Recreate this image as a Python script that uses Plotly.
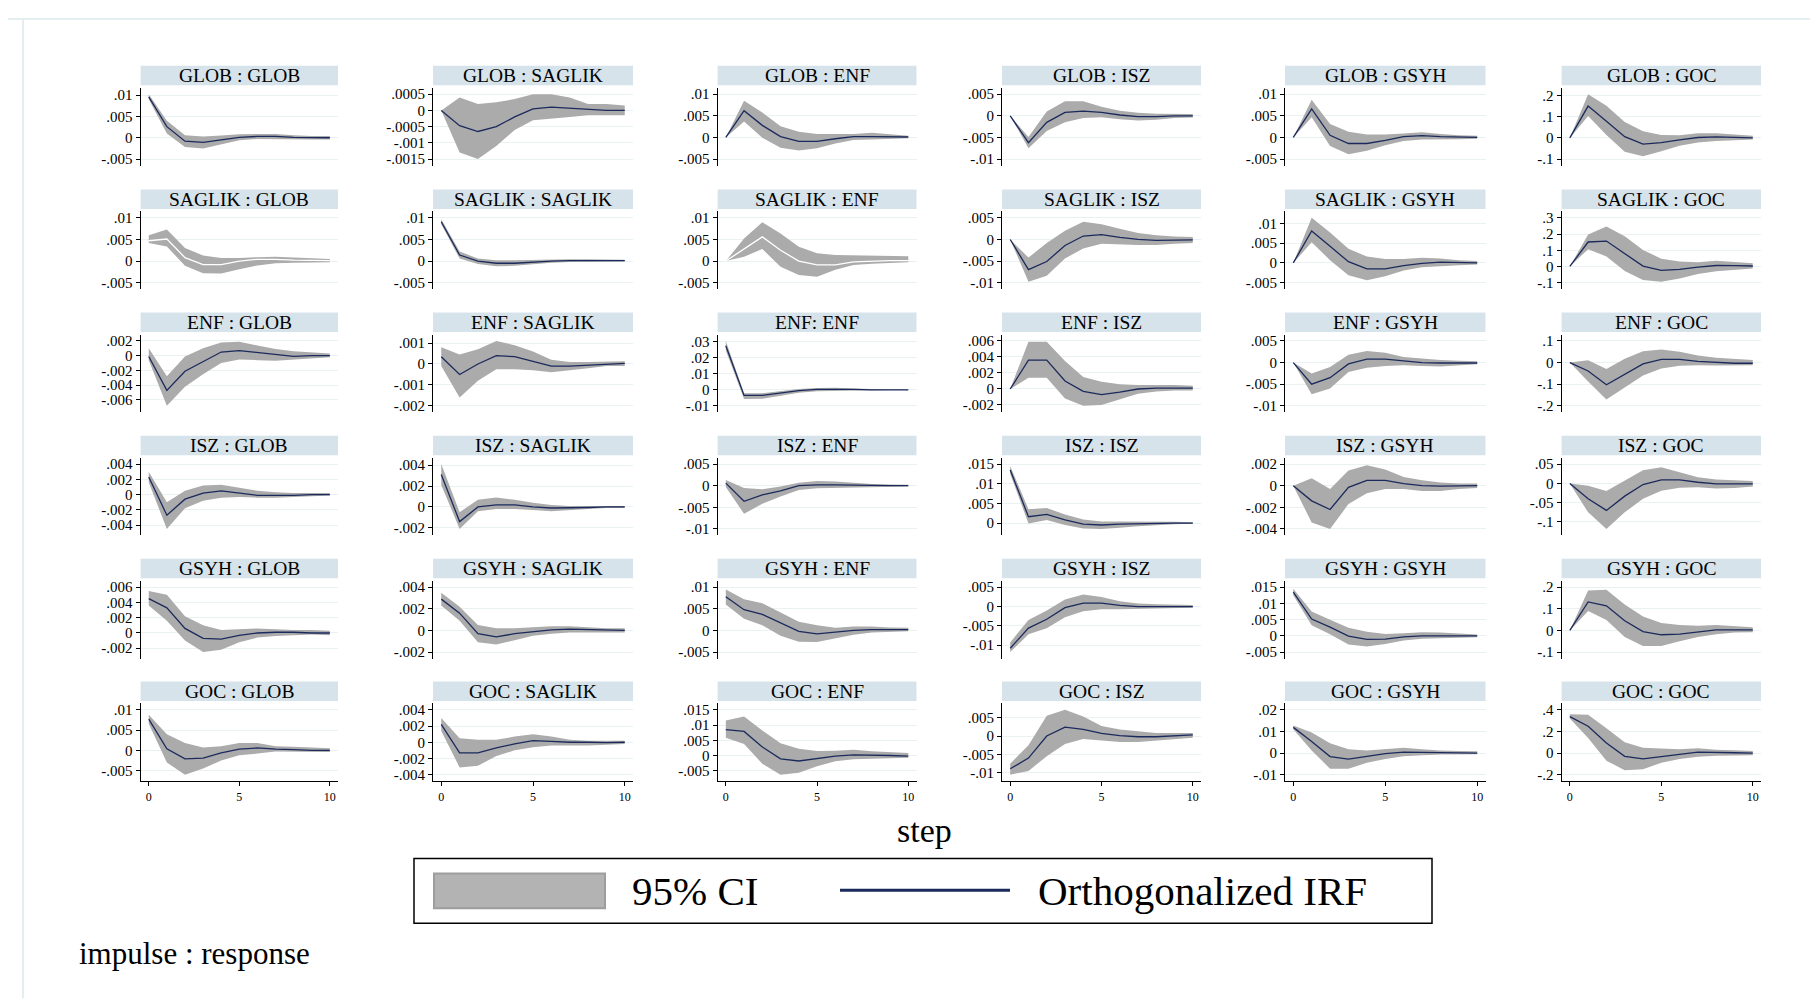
import plotly.graph_objects as go

# ---------------- data ----------------
STEPS = list(range(11))
VARS = ["GLOB", "SAGLIK", "ENF", "ISZ", "GSYH", "GOC"]

# impulse GLOB -> responses GLOB, SAGLIK, ENF, ISZ, GSYH, GOC
IRF_GLOB = [
    [.0096, .0026, -.0008, -.0011, -.0005, .0001, .0003, .0003, .0001, 0, 0],
    [0, -.00047, -.00065, -.0005, -.0002, .00005, .0001, .00007, .00003, 0, 0],
    [0, .0062, .0028, .0002, -.0009, -.0009, -.0003, .0002, .0002, .0001, .0001],
    [0, -.0062, -.0015, .0008, .0011, .0008, .0002, -.0002, -.0002, 0, 0],
    [0, .0066, .0005, -.0014, -.0014, -.0007, .0002, .0004, .0002, .0001, 0],
    [0, .151, .079, .006, -.029, -.022, -.009, .002, .005, .002, 0],
]
LO_GLOB = [
    [.0090, .0010, -.0022, -.0025, -.0015, -.0006, -.0003, -.0003, -.0004, -.0004, -.0004],
    [0, -.0013, -.0015, -.0011, -.0006, -.0003, -.00025, -.0002, -.00015, -.00015, -.00015],
    [0, .0037, -.0001, -.0024, -.0030, -.0025, -.0014, -.0006, -.0005, -.0004, -.0002],
    [0, -.0075, -.0035, -.0015, -.0005, -.0003, -.0008, -.0011, -.0009, -.0005, -.0004],
    [0, .0047, -.0020, -.0039, -.0031, -.0018, -.0008, -.0005, -.0004, -.0004, -.0003],
    [0, .104, .014, -.066, -.087, -.063, -.037, -.022, -.015, -.010, -.008],
]
HI_GLOB = [
    [.0102, .0040, .0006, .0003, .0005, .0008, .0009, .0009, .0006, .0004, .0004],
    [0, .0004, .0002, .00025, .00035, .0005, .0005, .0004, .0002, .0002, .00015],
    [0, .0085, .0058, .0026, .0013, .0008, .0008, .0008, .0011, .0007, .0004],
    [0, -.0049, .0010, .0034, .0034, .0021, .0012, .0007, .0005, .0004, .0004],
    [0, .0087, .0031, .0013, .0007, .0007, .0009, .0012, .0008, .0005, .0004],
    [0, .207, .153, .076, .032, .014, .013, .022, .022, .015, .010],
]

IRF_SAGLIK = [
    [.0047, .0051, .0008, -.0008, -.0008, 0, .0004, .0004, .0002, .0002, .0001],
    [.0091, .0014, 0, -.0005, -.0005, -.0002, 0, .0001, .0001, .0001, .0001],
    [0, .0028, .0056, .0025, 0, -.0009, -.0009, -.0002, 0, .0001, .0001],
    [0, -.0070, -.0051, -.0014, .0008, .0011, .0005, 0, -.0002, -.0002, -.0001],
    [0, .0081, .0042, .0003, -.0015, -.0015, -.0007, -.0001, .0002, .0001, 0],
    [0, .151, .157, .078, .002, -.024, -.018, -.004, .006, .005, .003],
]
LO_SAGLIK = [
    [.0042, .0034, -.0011, -.0028, -.0029, -.0019, -.0010, -.0005, -.0004, -.0003, -.0003],
    [.0085, .0006, -.0007, -.0012, -.0011, -.0007, -.0004, -.0002, -.0002, -.0001, -.0001],
    [0, .0010, .0028, -.0013, -.0032, -.0036, -.0020, -.0009, -.0006, -.0004, -.0003],
    [0, -.0098, -.0084, -.0044, -.0021, -.0010, -.0011, -.0013, -.0013, -.0010, -.0008],
    [0, .0052, .0007, -.0031, -.0044, -.0034, -.0019, -.0011, -.0008, -.0006, -.0004],
    [0, .107, .062, -.028, -.084, -.094, -.075, -.046, -.030, -.020, -.013],
]
HI_SAGLIK = [
    [.0060, .0073, .0030, .0013, .0007, .0007, .0009, .0010, .0008, .0006, .0005],
    [.0097, .0022, .0006, .0002, .0002, .0003, .0004, .0004, .0004, .0003, .0003],
    [0, .0052, .0090, .0064, .0033, .0018, .0014, .0013, .0012, .0012, .0011],
    [0, -.0042, -.0008, .0020, .0041, .0035, .0025, .0015, .0010, .0007, .0006],
    [0, .0114, .0077, .0036, .0016, .0010, .0010, .0013, .0011, .0007, .0005],
    [0, .197, .247, .187, .102, .048, .030, .026, .036, .027, .020],
]

IRF_ENF = [
    [-.0001, -.0047, -.0021, -.0008, .0005, .0007, .0004, .0001, -.0001, 0, 0],
    [.00035, -.0005, 0, .0004, .00035, .00012, -.0001, -.0001, -.00005, 0, .00003],
    [.0275, -.0035, -.0035, -.0020, -.0005, .0002, .0004, .0002, 0, 0, 0],
    [0, .0036, .0036, .0010, -.0003, -.0007, -.0004, 0, .0001, .0001, .0001],
    [0, -.0050, -.0035, -.0003, .0008, .0008, .0004, 0, -.0001, -.0001, -.0001],
    [0, -.039, -.103, -.055, -.006, .015, .015, .006, 0, -.003, -.003],
]
LO_ENF = [
    [-.0006, -.0068, -.0042, -.0025, -.0010, -.0005, -.0006, -.0007, -.0006, -.0004, -.0002],
    [-.0001, -.0016, -.0008, -.00025, -.00025, -.0003, -.0004, -.0003, -.0002, -.0001, -.0001],
    [.0245, -.0058, -.0056, -.0037, -.0018, -.0009, -.0006, -.0005, -.0004, -.0002, -.0002],
    [0, .0014, .0014, -.0012, -.0021, -.0020, -.0013, -.0006, -.0003, -.0002, -.0002],
    [0, -.0073, -.0060, -.0022, -.0012, -.0008, -.0006, -.0008, -.0009, -.0007, -.0004],
    [0, -.088, -.171, -.115, -.060, -.027, -.015, -.012, -.014, -.014, -.012],
]
HI_ENF = [
    [.0010, -.0028, -.0001, .0010, .0018, .0019, .0014, .0009, .0006, .0004, .0003],
    [.0008, .00045, .0007, .0011, .0009, .0006, .0002, .0001, .0001, .00012, .00013],
    [.0305, -.0022, -.0022, -.0007, .0005, .0011, .0012, .0008, .0004, .0002, .0002],
    [0, .0059, .0059, .0035, .0015, .0009, .0006, .0005, .0005, .0005, .0004],
    [0, -.0025, -.0010, .0018, .0027, .0023, .0013, .0009, .0006, .0004, .0003],
    [0, .011, -.030, .018, .052, .061, .050, .033, .022, .016, .012],
]

IRF_ISZ = [
    [.0023, -.0027, -.0006, .0002, .0005, .0002, -.0001, -.0001, -.0001, 0, 0],
    [.0031, -.0014, 0, .0002, .0002, 0, -.0001, -.0001, -.00005, 0, 0],
    [.0006, -.0036, -.0021, -.0012, 0, .0002, .0002, .0001, 0, 0, 0],
    [.0135, .0016, .0022, .0008, -.0003, -.0005, -.0003, -.0002, 0, 0, 0],
    [0, -.0014, -.0022, -.00015, .0005, .0005, .0002, 0, -.00003, 0, 0],
    [0, -.040, -.070, -.033, -.003, .009, .009, .003, -.001, -.001, -.001],
]
LO_ISZ = [
    [.0016, -.0045, -.0018, -.0008, -.0004, -.0003, -.0004, -.0004, -.0003, -.0002, -.0001],
    [.0021, -.0021, -.0004, -.0002, -.0002, -.0003, -.0004, -.0003, -.0002, -.0001, -.0001],
    [-.0003, -.0065, -.0042, -.0025, -.0010, -.0006, -.0005, -.0004, -.0004, -.0003, -.0002],
    [.0125, -.0001, .0008, -.0005, -.0014, -.0015, -.0012, -.0008, -.0005, -.0003, -.0002],
    [0, -.0034, -.0040, -.0017, -.0007, -.0003, -.0003, -.0005, -.0005, -.0003, -.0002],
    [0, -.075, -.118, -.075, -.040, -.019, -.011, -.010, -.013, -.012, -.008],
]
HI_ISZ = [
    [.0030, -.0010, .0005, .0012, .0013, .0009, .0005, .0003, .0002, .0002, .0002],
    [.0041, -.0005, .0007, .0009, .0007, .0004, .0002, .0001, .0001, .0001, .0001],
    [.0013, -.0005, -.0008, -.0002, .0007, .0011, .0010, .0007, .0004, .0003, .0002],
    [.0145, .0035, .0038, .0022, .0009, .0004, .0004, .0004, .0004, .0003, .0002],
    [0, .0007, -.0003, .0014, .0019, .0015, .0008, .0005, .0003, .0002, .0002],
    [0, -.006, -.020, .008, .034, .042, .030, .016, .010, .008, .006],
]

IRF_GSYH = [
    [.0045, .0033, .0006, -.0007, -.0008, -.0003, 0, .0001, .0001, 0, 0],
    [.0029, .0016, -.0003, -.0006, -.0003, -.0001, .00006, .00012, .00006, 0, 0],
    [.0078, .0048, .0037, .0017, -.0002, -.0008, -.0004, 0, .0002, .0002, .0002],
    [-.0108, -.0056, -.0033, -.0003, .0009, .0009, .0003, 0, 0, 0, 0],
    [.0135, .0052, .0027, -.0001, -.0011, -.0010, -.0003, 0, 0, 0, 0],
    [0, .132, .114, .045, -.005, -.020, -.017, -.006, .003, .003, .003],
]
LO_GSYH = [
    [.0036, .0016, -.0010, -.0025, -.0022, -.0012, -.0006, -.0004, -.0003, -.0002, -.0003],
    [.0023, .0009, -.0011, -.0013, -.0009, -.0005, -.0003, -.0002, -.0002, -.0002, -.0002],
    [.0060, .0027, .0012, -.0012, -.0026, -.0027, -.0018, -.0010, -.0005, -.0003, -.0002],
    [-.0118, -.0072, -.0056, -.0028, -.0012, -.0007, -.0007, -.0007, -.0006, -.0004, -.0003],
    [.0125, .0033, .0005, -.0027, -.0033, -.0025, -.0014, -.0009, -.0007, -.0005, -.0004],
    [0, .090, .048, -.030, -.072, -.072, -.050, -.030, -.018, -.010, -.008],
]
HI_GSYH = [
    [.0055, .0050, .0022, .0010, .0004, .0005, .0006, .0005, .0004, .0004, .0003],
    [.0035, .0022, .0005, .0002, .0002, .0003, .0004, .0004, .0003, .0002, .0002],
    [.0095, .0072, .0063, .0042, .0020, .0012, .0006, .0009, .0009, .0007, .0006],
    [-.0093, -.0035, -.0010, .0018, .0031, .0025, .0014, .0008, .0006, .0005, .0004],
    [.0145, .0075, .0050, .0025, .0013, .0006, .0008, .0011, .0010, .0006, .0004],
    [0, .185, .188, .120, .065, .035, .025, .022, .025, .020, .015],
]

IRF_GOC = [
    [.0077, .0004, -.0021, -.0019, -.0006, .0003, .0006, .0003, .0002, 0, 0],
    [.0022, -.0013, -.0013, -.0007, -.0002, .0002, .0001, 0, 0, -.00005, 0],
    [.0085, .0079, .0028, -.0011, -.0018, -.0010, -.0002, .0002, .0002, 0, -.0002],
    [-.0089, -.0060, 0, .0024, .0018, .0007, .0001, -.0002, -.0002, 0, .0003],
    [.0119, .0054, -.0016, -.0028, -.0015, -.0003, .0004, .0004, .0004, .0001, 0],
    [.337, .248, .093, -.030, -.054, -.030, -.012, .009, .009, .003, 0],
]
LO_GOC = [
    [.0066, -.0030, -.0060, -.0045, -.0025, -.0012, -.0008, -.0003, -.0003, -.0004, -.0004],
    [.0014, -.0031, -.0029, -.0017, -.0010, -.0006, -.0004, -.0004, -.0004, -.0003, -.0002],
    [.0058, .0038, -.0027, -.0063, -.0057, -.0035, -.0019, -.0012, -.0010, -.0008, -.0007],
    [-.0105, -.0095, -.0055, -.0022, -.0008, -.0012, -.0016, -.0016, -.0012, -.0008, -.0005],
    [.0110, .0012, -.0072, -.0072, -.0045, -.0027, -.0015, -.0010, -.0007, -.0006, -.0006],
    [.320, .140, -.070, -.160, -.150, -.090, -.055, -.035, -.025, -.020, -.020],
]
HI_GOC = [
    [.0088, .0040, .0018, .0007, .0010, .0018, .0018, .0010, .0009, .0007, .0005],
    [.0030, .0005, .0003, .0003, .0007, .0010, .0007, .0003, .0002, .0002, .0002],
    [.0115, .0128, .0082, .0040, .0022, .0015, .0016, .0019, .0014, .0010, .0008],
    [-.0075, -.0025, .0055, .0071, .0053, .0027, .0018, .0012, .0008, .0008, .0008],
    [.0128, .0095, .0045, .0018, .0012, .0018, .0025, .0018, .0012, .0010, .0008],
    [.360, .355, .230, .100, .050, .040, .035, .045, .030, .025, .020],
]

# y tick values per panel (impulse rows, response columns)
YT_GLOB = [[.01, .005, 0, -.005], [.0005, 0, -.0005, -.001, -.0015], [.01, .005, 0, -.005],
           [.005, 0, -.005, -.01], [.01, .005, 0, -.005], [.2, .1, 0, -.1]]
YT_SAGLIK = [[.01, .005, 0, -.005], [.01, .005, 0, -.005], [.01, .005, 0, -.005],
             [.005, 0, -.005, -.01], [.01, .005, 0, -.005], [.3, .2, .1, 0, -.1]]
YT_ENF = [[.002, 0, -.002, -.004, -.006], [.001, 0, -.001, -.002], [.03, .02, .01, 0, -.01],
          [.006, .004, .002, 0, -.002], [.005, 0, -.005, -.01], [.1, 0, -.1, -.2]]
YT_ISZ = [[.004, .002, 0, -.002, -.004], [.004, .002, 0, -.002], [.005, 0, -.005, -.01],
          [.015, .01, .005, 0], [.002, 0, -.002, -.004], [.05, 0, -.05, -.1]]
YT_GSYH = [[.006, .004, .002, 0, -.002], [.004, .002, 0, -.002], [.01, .005, 0, -.005],
           [.005, 0, -.005, -.01], [.015, .01, .005, 0, -.005], [.2, .1, 0, -.1]]
YT_GOC = [[.01, .005, 0, -.005], [.004, .002, 0, -.002, -.004], [.015, .01, .005, 0, -.005],
          [.005, 0, -.005, -.01], [.02, .01, 0, -.01], [.4, .2, 0, -.2]]
XTICKS = [0, 5, 10]

IRF = [IRF_GLOB, IRF_SAGLIK, IRF_ENF, IRF_ISZ, IRF_GSYH, IRF_GOC]
LO = [LO_GLOB, LO_SAGLIK, LO_ENF, LO_ISZ, LO_GSYH, LO_GOC]
HI = [HI_GLOB, HI_SAGLIK, HI_ENF, HI_ISZ, HI_GSYH, HI_GOC]
YT = [YT_GLOB, YT_SAGLIK, YT_ENF, YT_ISZ, YT_GSYH, YT_GOC]


def title_of(imp, resp):
    if imp == "ENF" and resp == "ENF":
        return "ENF: ENF"
    return f"{imp} : {resp}"


def fmt(v):
    if v == 0:
        return "0"
    s = f"{abs(v):.5f}".rstrip("0").rstrip(".")
    if s.startswith("0"):
        s = s[1:]
    return ("-" if v < 0 else "") + s


# ---------------- layout geometry (page pixels) ----------------
PAGE_W, PAGE_H = 1818, 1008
OFF = 8                      # browser body margin
W, H = PAGE_W - 2 * OFF, PAGE_H - 2 * OFF
COL_X0 = [140.6, 433.0, 717.6, 1002.0, 1285.0, 1561.6]
COL_X1 = [338.0, 633.0, 916.5, 1201.0, 1485.5, 1761.0]
ROW_TOP = [65.0, 189.0, 312.5, 436.0, 559.5, 682.5]
BOX_H = 19.5
PLOT_TOP_OFF = 22.0
PLOT_BOT_OFF = 100.0

FONT = "Liberation Serif, Times New Roman, serif"
BAND = "#ababab"
NAVY = "#1b2a5c"
TITLE_BG = "#d7e3ea"
GRID = "#e9f1f3"
WHITE_LINE = {(1, 0), (1, 2)}


def fx(x):
    return (x - OFF) / W


def fy(y):
    return 1 - (y - OFF) / H


fig = go.Figure()
layout = dict(
    width=W, height=H, autosize=False,
    margin=dict(l=0, r=0, t=0, b=0),
    paper_bgcolor="white", plot_bgcolor="white",
    showlegend=False,
    font=dict(family=FONT, color="black"),
)
shapes = []
annotations = []

n = 0
for r, imp in enumerate(VARS):
    for c, resp in enumerate(VARS):
        n += 1
        xa = "x" if n == 1 else f"x{n}"
        ya = "y" if n == 1 else f"y{n}"
        irf, lo, hi, ticks = IRF[r][c], LO[r][c], HI[r][c], YT[r][c]

        fig.add_trace(go.Scatter(
            x=STEPS + STEPS[::-1], y=hi + lo[::-1], mode="lines",
            fill="toself", fillcolor=BAND, line=dict(width=0, color=BAND),
            hoverinfo="skip", xaxis=xa, yaxis=ya))
        fig.add_trace(go.Scatter(
            x=STEPS, y=irf, mode="lines",
            line=dict(color="white" if (r, c) in WHITE_LINE else NAVY, width=1.3),
            hoverinfo="skip", xaxis=xa, yaxis=ya))

        x0, x1 = COL_X0[c], COL_X1[c]
        top = ROW_TOP[r]
        ymin = min(min(ticks), min(lo), min(irf))
        ymax = max(max(ticks), max(hi), max(irf))
        pad = 0.1 * (ymax - ymin)
        bottom_row = (r == len(VARS) - 1)

        layout["xaxis" if n == 1 else f"xaxis{n}"] = dict(
            domain=[fx(x0), fx(x1)], anchor=ya, range=[-0.45, 10.45],
            showgrid=False, zeroline=False, fixedrange=True,
            showline=bottom_row, linecolor="black", linewidth=1,
            ticks="outside" if bottom_row else "", ticklen=4, tickcolor="black",
            tickvals=XTICKS if bottom_row else [], showticklabels=bottom_row,
            tickfont=dict(family=FONT, size=12, color="black"),
        )
        layout["yaxis" if n == 1 else f"yaxis{n}"] = dict(
            domain=[fy(top + PLOT_BOT_OFF), fy(top + PLOT_TOP_OFF)], anchor=xa,
            range=[ymin - pad, ymax + pad],
            tickvals=ticks, ticktext=[fmt(t) for t in ticks],
            showgrid=True, gridcolor=GRID, gridwidth=1, zeroline=False,
            showline=True, linecolor="black", linewidth=1,
            ticks="outside", ticklen=4, tickcolor="black",
            tickfont=dict(family=FONT, size=15, color="black"), fixedrange=True,
        )

        shapes.append(dict(type="rect", xref="paper", yref="paper",
                           x0=fx(x0), x1=fx(x1), y0=fy(top + BOX_H), y1=fy(top),
                           fillcolor=TITLE_BG, line=dict(width=0), layer="below"))
        annotations.append(dict(text=title_of(imp, resp), xref="paper", yref="paper",
                                x=fx((x0 + x1) / 2), y=fy(top + BOX_H / 2),
                                xanchor="center", yanchor="middle", showarrow=False,
                                font=dict(family=FONT, size=19.5, color="black")))

# page frame lines (faint)
shapes.append(dict(type="line", xref="paper", yref="paper", x0=fx(OFF), x1=fx(PAGE_W - OFF),
                   y0=fy(18), y1=fy(18), line=dict(color="#e4edf0", width=2)))
shapes.append(dict(type="line", xref="paper", yref="paper", x0=fx(23), x1=fx(23),
                   y0=fy(18), y1=fy(PAGE_H - OFF), line=dict(color="#e4edf0", width=2)))

# x axis title
annotations.append(dict(text="step", xref="paper", yref="paper", x=fx(924), y=fy(832),
                        xanchor="center", yanchor="middle", showarrow=False,
                        font=dict(family=FONT, size=34, color="black")))

# legend box
shapes.append(dict(type="rect", xref="paper", yref="paper", x0=fx(414), x1=fx(1432),
                   y0=fy(925), y1=fy(860), fillcolor="white",
                   line=dict(color="black", width=1.5)))
shapes.append(dict(type="rect", xref="paper", yref="paper", x0=fx(434), x1=fx(605),
                   y0=fy(910), y1=fy(875), fillcolor="#b3b3b3",
                   line=dict(color="#9d9d9d", width=2)))
annotations.append(dict(text="95% CI", xref="paper", yref="paper", x=fx(630), y=fy(893),
                        xanchor="left", yanchor="middle", showarrow=False,
                        font=dict(family=FONT, size=41, color="black")))
shapes.append(dict(type="line", xref="paper", yref="paper", x0=fx(840), x1=fx(1010),
                   y0=fy(892), y1=fy(892), line=dict(color=NAVY, width=3)))
annotations.append(dict(text="Orthogonalized IRF", xref="paper", yref="paper", x=fx(1036),
                        y=fy(893), xanchor="left", yanchor="middle", showarrow=False,
                        font=dict(family=FONT, size=41, color="black")))

# note
annotations.append(dict(text="impulse : response", xref="paper", yref="paper", x=fx(77),
                        y=fy(955), xanchor="left", yanchor="middle", showarrow=False,
                        font=dict(family=FONT, size=31, color="black")))

layout["shapes"] = shapes
layout["annotations"] = annotations
fig.update_layout(**layout)
fig.write_html("out.html")
